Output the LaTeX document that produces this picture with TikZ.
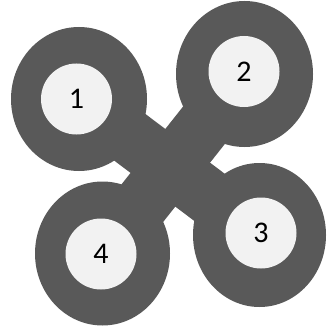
\documentclass[tikz,border=0pt]{standalone}
\usepackage{fontspec}
\setmainfont{Carlito}
\definecolor{ringgray}{HTML}{595959}
\definecolor{innergray}{HTML}{F2F2F2}
\begin{document}
\begin{tikzpicture}[x=1pt,y=-1pt,
  innerdisc/.style={fill=innergray, draw=none, circle, minimum size=71pt, inner sep=0pt, font=\fontsize{30}{32}\selectfont},
  armbar/.style={draw=ringgray, line width=56pt}]
\useasboundingbox (0,0) rectangle (326,334);
\coordinate (c1) at (79,99);
\coordinate (c2) at (244.5,74);
\coordinate (c3) at (259.5,235);
\coordinate (c4) at (102.5,253.5);
\draw[armbar] (c1) -- (c3);
\draw[armbar] (c2) -- (c4);
\fill[ringgray] (c1) ellipse [x radius=68, y radius=72];
\fill[ringgray] (c2) ellipse [x radius=68.5, y radius=73];
\fill[ringgray] (c3) ellipse [x radius=66.5, y radius=72];
\fill[ringgray] (c4) ellipse [x radius=67.5, y radius=72];
\node[innerdisc] (n1) at (76.5,99) {1};
\node[innerdisc] (n2) at (244,71.5) {2};
\node[innerdisc] (n3) at (261,233) {3};
\node[innerdisc] (n4) at (101,254) {4};
\end{tikzpicture}
\end{document}
